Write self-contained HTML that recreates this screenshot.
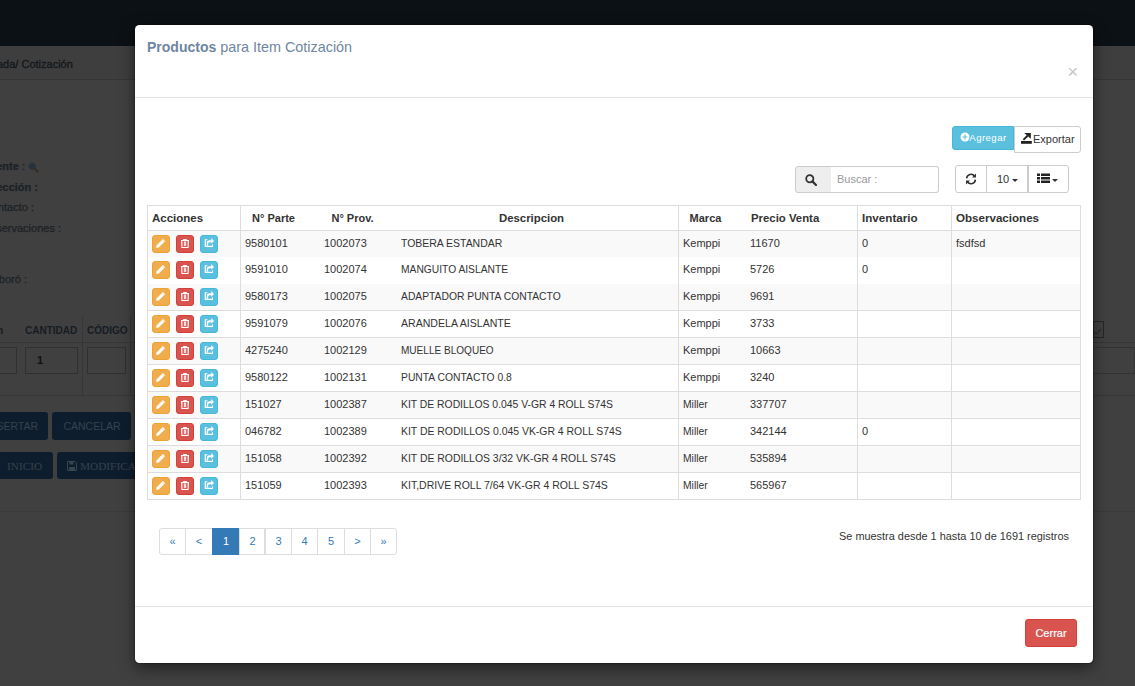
<!DOCTYPE html>
<html><head><meta charset="utf-8">
<style>
*{box-sizing:border-box;margin:0;padding:0}
html,body{width:1135px;height:686px;overflow:hidden}
body{background:#404040;font-family:"Liberation Sans",sans-serif;position:relative;color:#333}
.a{position:absolute;white-space:nowrap}
#topbar{left:0;top:0;width:1135px;height:46px;background:#0c1115}
#crumb{left:0;top:46px;width:1135px;height:34px;background:#3e3e3e;border-bottom:1px solid #363636}
.bg{color:#161616;font-size:11px}
#modal{left:135px;top:25px;width:958px;height:638px;background:#fff;border-radius:4.5px;box-shadow:0 0 0 1px rgba(0,0,0,.2),0 5px 15px rgba(0,0,0,.5);overflow:hidden}
.t{font-size:11px;color:#333;line-height:13px}
.th{font-size:11px;font-weight:bold;color:#333;line-height:13px}
.hl{position:absolute;height:1px;background:#ddd}
.vl{position:absolute;width:1px;background:#ddd}
.btn18{position:absolute;width:18px;height:18px;border-radius:3px;border:1px solid}
.btn18 svg{position:absolute;left:-1px;top:-1px}
.bw{background:#f0ad4e;border-color:#eea236}
.bd{background:#d9534f;border-color:#d43f3a}
.bi{background:#5bc0de;border-color:#46b8da}
</style></head>
<body>
<div id="topbar" class="a"></div>
<div id="crumb" class="a"></div>
<div class="a" style="left:0;top:511px;width:1135px;height:1px;background:#3a3a3a"></div>
<div class="a" style="left:-3px;top:58px;font-size:11px;color:#13171b;line-height:13px;-webkit-text-stroke:0.3px #13171b">ada/ Cotización</div>
<div class="a" style="right:1110px;top:159.7px;font-size:11px;color:#1c2126;line-height:13px;text-align:right;-webkit-text-stroke:0.25px #1c2126;font-weight:bold">ente <span style="font-weight:normal">:</span></div>
<svg class="a" style="left:28px;top:162px" width="11" height="11" viewBox="0 0 11 11"><circle cx="4.3" cy="4.3" r="3.5" fill="#27313b" stroke="#323a42" stroke-width="1"/><path d="M6.8 6.8L10.3 10.3" stroke="#3a2a1a" stroke-width="2"/></svg>
<div class="a" style="right:1097px;top:180.7px;font-size:11px;color:#1c2126;line-height:13px;text-align:right;-webkit-text-stroke:0.25px #1c2126;font-weight:bold">ección :</div>
<div class="a" style="right:1101px;top:201.1px;font-size:11px;color:#1c2126;line-height:13px;text-align:right;-webkit-text-stroke:0.25px #1c2126;">ntacto :</div>
<div class="a" style="right:1074px;top:222.1px;font-size:11px;color:#1c2126;line-height:13px;text-align:right;-webkit-text-stroke:0.25px #1c2126;">servaciones :</div>
<div class="a" style="right:1108px;top:272.7px;font-size:11px;color:#1c2126;line-height:13px;text-align:right;-webkit-text-stroke:0.25px #1c2126;">boró :</div>
<div class="a" style="left:0;top:342px;width:135px;height:1px;background:#363636"></div>
<div class="a" style="left:0;top:395px;width:135px;height:1px;background:#363636"></div>
<div class="a" style="left:82px;top:317px;width:1px;height:78px;background:#363636"></div>
<div class="a" style="left:130px;top:317px;width:1px;height:78px;background:#363636"></div>
<div class="a" style="left:-3px;top:324.5px;font-size:10px;color:#161c23;font-weight:bold;line-height:12px">n</div>
<div class="a" style="left:25px;top:324.5px;font-size:10px;color:#161c23;font-weight:bold;line-height:12px">CANTIDAD</div>
<div class="a" style="left:87px;top:324.5px;font-size:10px;color:#161c23;font-weight:bold;line-height:12px">CÓDIGO</div>
<div class="a" style="left:-10px;top:347px;width:27px;height:27px;border:1px solid #303030"></div>
<div class="a" style="left:25px;top:347px;width:53px;height:27px;border:1px solid #303030"></div>
<div class="a" style="left:87px;top:347px;width:39px;height:27px;border:1px solid #303030"></div>
<div class="a" style="left:37px;top:354px;font-size:11px;color:#111;font-weight:bold;line-height:13px">1</div>
<div class="a" style="left:1093px;top:321px;width:11px;height:17px;border:1px solid #262626"></div>
<svg class="a" style="left:1093px;top:326px" width="10" height="10" viewBox="0 0 10 10"><path d="M1 6L3.5 8L8 3" fill="none" stroke="#222" stroke-width="1"/></svg>
<div class="a" style="left:1093px;top:342px;width:42px;height:1px;background:#363636"></div>
<div class="a" style="left:1093px;top:395px;width:42px;height:1px;background:#363636"></div>
<div class="a" style="left:1080px;top:347px;width:55px;height:27px;border:1px solid #333"></div>
<div class="a" style="left:-10px;top:412px;width:58px;height:28px;background:#0e1d2d;border-radius:3px;font-size:10.5px;color:#36424c;line-height:28px;text-align:right;padding-right:10px">SERTAR</div>
<div class="a" style="left:52px;top:412px;width:79px;height:28px;background:#0e1d2d;border-radius:3px;font-size:10.5px;color:#36424c;line-height:28px;text-align:center;padding-left:1px">CANCELAR</div>
<div class="a" style="left:-10px;top:452px;width:63px;height:27px;background:#0e1d2d;border-radius:3px;font-family:'Liberation Serif',serif;font-size:11.3px;color:#36424c;line-height:29px;padding-left:17px">INICIO</div>
<div class="a" style="left:57px;top:452px;width:100px;height:27px;background:#0e1d2d;border-radius:3px;font-family:'Liberation Serif',serif;font-size:11.3px;color:#36424c;line-height:29px;padding-left:23px">MODIFICAR</div>
<svg class="a" style="left:67px;top:461px" width="10" height="10" viewBox="0 0 10 10"><path d="M0.5 0.5H8L9.5 2V9.5H0.5Z" fill="none" stroke="#38444e" stroke-width="1"/><rect x="2.5" y="0.5" width="4" height="3" fill="#38444e"/><rect x="2" y="6" width="6" height="3.5" fill="#38444e"/></svg>
<div id="modal" class="a">

<div class="a" style="left:12px;top:14px;font-size:14px;color:#6f86a0;line-height:17px"><b>Productos</b> <span style="font-size:14.4px">para Item Cotización</span></div>
<div class="a" style="left:932.5px;top:37px;font-size:18px;color:#c4c4c4;line-height:20px">×</div>
<div class="hl" style="left:0;top:72px;width:958px;background:#e5e5e5"></div>
<div class="a" style="left:12px;top:180px;width:934px;height:295px;border:1px solid #ddd"></div>
<div class="a" style="left:13px;top:206px;width:932px;height:26px;background:#f9f9f9"></div>
<div class="a" style="left:13px;top:259px;width:932px;height:26px;background:#f9f9f9"></div>
<div class="a" style="left:13px;top:313px;width:932px;height:26px;background:#f9f9f9"></div>
<div class="a" style="left:13px;top:367px;width:932px;height:26px;background:#f9f9f9"></div>
<div class="a" style="left:13px;top:421px;width:932px;height:26px;background:#f9f9f9"></div>
<div class="hl" style="left:12px;top:205px;width:934px"></div>
<div class="hl" style="left:12px;top:285px;width:934px"></div>
<div class="hl" style="left:12px;top:312px;width:934px"></div>
<div class="hl" style="left:12px;top:339px;width:934px"></div>
<div class="hl" style="left:12px;top:366px;width:934px"></div>
<div class="hl" style="left:12px;top:393px;width:934px"></div>
<div class="hl" style="left:12px;top:420px;width:934px"></div>
<div class="hl" style="left:12px;top:447px;width:934px"></div>
<div class="vl" style="left:105px;top:180px;height:295px"></div>
<div class="vl" style="left:543px;top:180px;height:295px"></div>
<div class="vl" style="left:722px;top:180px;height:295px"></div>
<div class="vl" style="left:816px;top:180px;height:295px"></div>
<div class="a th" style="left:17px;top:187px;transform:scaleX(1.046);transform-origin:0 0">Acciones</div>
<div class="a th" style="left:105px;width:67px;top:187px;text-align:center">N° Parte</div>
<div class="a th" style="left:185px;width:65px;top:187px;text-align:center">N° Prov.</div>
<div class="a th" style="left:262px;width:269px;top:187px;text-align:center;transform:scaleX(1.034);transform-origin:50% 0">Descripcion</div>
<div class="a th" style="left:543px;width:55px;top:187px;text-align:center">Marca</div>
<div class="a th" style="left:615.6px;top:187px;transform:scaleX(1.033);transform-origin:0 0">Precio Venta</div>
<div class="a th" style="left:727px;top:187px;transform:scaleX(1.058);transform-origin:0 0">Inventario</div>
<div class="a th" style="left:821px;top:187px;transform:scaleX(1.053);transform-origin:0 0">Observaciones</div>
<div class="a t" style="left:110px;top:212px">9580101</div>
<div class="a t" style="left:189px;top:212px">1002073</div>
<div class="a t" style="left:266px;top:212px;transform:scaleX(0.95);transform-origin:0 0">TOBERA ESTANDAR</div>
<div class="a t" style="left:548px;top:212px">Kemppi</div>
<div class="a t" style="left:615px;top:212px">11670</div>
<div class="a t" style="left:727px;top:212px">0</div>
<div class="a t" style="left:821px;top:212px">fsdfsd</div>
<div class="btn18 bw" style="left:17px;top:210px"><svg width="18" height="18" viewBox="0 0 18 18"><path d="M4.2 13 L4.5 10.4 L10.9 4 L13.1 6.2 L6.7 12.6 Z" fill="#fff"/><path d="M9.9 5.4L11.7 7.2" stroke="#f0ad4e" stroke-width="0.5"/></svg></div>
<div class="btn18 bd" style="left:41px;top:210px"><svg width="18" height="18" viewBox="0 0 18 18"><path d="M5 4.9 H7.1 L7.4 3.9 H10.6 L10.9 4.9 H13 L12.6 13 H5.4 Z" fill="#fff"/><path d="M6.3 6.1 H11.7 V11.9 H6.3Z" fill="#d9534f"/><path d="M8.2 6.5 H9.8 V11.1 H8.2Z" fill="#fff"/><path d="M6.9 6.5 V11.3 M11.1 6.5 V11.3" stroke="#f0b8b6" stroke-width="0.6"/></svg></div>
<div class="btn18 bi" style="left:65px;top:210px"><svg width="18" height="18" viewBox="0 0 18 18"><g fill="#fff"><path d="M4.7 4.2 H7.4 V5.3 H5.9 V10.8 H12 V9.2 H12.9 V12 H4.7 Z"/><path d="M6.7 10.8 V8 Q6.7 5.2 9.6 5.2 H11.3 V3.1 L14 6 L11.3 8.8 V7.3 H9.7 Q8.1 7.3 8.1 9.1 V10.8 Z"/></g></svg></div>
<div class="a t" style="left:110px;top:238px">9591010</div>
<div class="a t" style="left:189px;top:238px">1002074</div>
<div class="a t" style="left:266px;top:238px;transform:scaleX(0.933);transform-origin:0 0">MANGUITO AISLANTE</div>
<div class="a t" style="left:548px;top:238px">Kemppi</div>
<div class="a t" style="left:615px;top:238px">5726</div>
<div class="a t" style="left:727px;top:238px">0</div>
<div class="btn18 bw" style="left:17px;top:236px"><svg width="18" height="18" viewBox="0 0 18 18"><path d="M4.2 13 L4.5 10.4 L10.9 4 L13.1 6.2 L6.7 12.6 Z" fill="#fff"/><path d="M9.9 5.4L11.7 7.2" stroke="#f0ad4e" stroke-width="0.5"/></svg></div>
<div class="btn18 bd" style="left:41px;top:236px"><svg width="18" height="18" viewBox="0 0 18 18"><path d="M5 4.9 H7.1 L7.4 3.9 H10.6 L10.9 4.9 H13 L12.6 13 H5.4 Z" fill="#fff"/><path d="M6.3 6.1 H11.7 V11.9 H6.3Z" fill="#d9534f"/><path d="M8.2 6.5 H9.8 V11.1 H8.2Z" fill="#fff"/><path d="M6.9 6.5 V11.3 M11.1 6.5 V11.3" stroke="#f0b8b6" stroke-width="0.6"/></svg></div>
<div class="btn18 bi" style="left:65px;top:236px"><svg width="18" height="18" viewBox="0 0 18 18"><g fill="#fff"><path d="M4.7 4.2 H7.4 V5.3 H5.9 V10.8 H12 V9.2 H12.9 V12 H4.7 Z"/><path d="M6.7 10.8 V8 Q6.7 5.2 9.6 5.2 H11.3 V3.1 L14 6 L11.3 8.8 V7.3 H9.7 Q8.1 7.3 8.1 9.1 V10.8 Z"/></g></svg></div>
<div class="a t" style="left:110px;top:265px">9580173</div>
<div class="a t" style="left:189px;top:265px">1002075</div>
<div class="a t" style="left:266px;top:265px;transform:scaleX(0.9376);transform-origin:0 0">ADAPTADOR PUNTA CONTACTO</div>
<div class="a t" style="left:548px;top:265px">Kemppi</div>
<div class="a t" style="left:615px;top:265px">9691</div>
<div class="btn18 bw" style="left:17px;top:263px"><svg width="18" height="18" viewBox="0 0 18 18"><path d="M4.2 13 L4.5 10.4 L10.9 4 L13.1 6.2 L6.7 12.6 Z" fill="#fff"/><path d="M9.9 5.4L11.7 7.2" stroke="#f0ad4e" stroke-width="0.5"/></svg></div>
<div class="btn18 bd" style="left:41px;top:263px"><svg width="18" height="18" viewBox="0 0 18 18"><path d="M5 4.9 H7.1 L7.4 3.9 H10.6 L10.9 4.9 H13 L12.6 13 H5.4 Z" fill="#fff"/><path d="M6.3 6.1 H11.7 V11.9 H6.3Z" fill="#d9534f"/><path d="M8.2 6.5 H9.8 V11.1 H8.2Z" fill="#fff"/><path d="M6.9 6.5 V11.3 M11.1 6.5 V11.3" stroke="#f0b8b6" stroke-width="0.6"/></svg></div>
<div class="btn18 bi" style="left:65px;top:263px"><svg width="18" height="18" viewBox="0 0 18 18"><g fill="#fff"><path d="M4.7 4.2 H7.4 V5.3 H5.9 V10.8 H12 V9.2 H12.9 V12 H4.7 Z"/><path d="M6.7 10.8 V8 Q6.7 5.2 9.6 5.2 H11.3 V3.1 L14 6 L11.3 8.8 V7.3 H9.7 Q8.1 7.3 8.1 9.1 V10.8 Z"/></g></svg></div>
<div class="a t" style="left:110px;top:292px">9591079</div>
<div class="a t" style="left:189px;top:292px">1002076</div>
<div class="a t" style="left:266px;top:292px;transform:scaleX(0.9606);transform-origin:0 0">ARANDELA AISLANTE</div>
<div class="a t" style="left:548px;top:292px">Kemppi</div>
<div class="a t" style="left:615px;top:292px">3733</div>
<div class="btn18 bw" style="left:17px;top:290px"><svg width="18" height="18" viewBox="0 0 18 18"><path d="M4.2 13 L4.5 10.4 L10.9 4 L13.1 6.2 L6.7 12.6 Z" fill="#fff"/><path d="M9.9 5.4L11.7 7.2" stroke="#f0ad4e" stroke-width="0.5"/></svg></div>
<div class="btn18 bd" style="left:41px;top:290px"><svg width="18" height="18" viewBox="0 0 18 18"><path d="M5 4.9 H7.1 L7.4 3.9 H10.6 L10.9 4.9 H13 L12.6 13 H5.4 Z" fill="#fff"/><path d="M6.3 6.1 H11.7 V11.9 H6.3Z" fill="#d9534f"/><path d="M8.2 6.5 H9.8 V11.1 H8.2Z" fill="#fff"/><path d="M6.9 6.5 V11.3 M11.1 6.5 V11.3" stroke="#f0b8b6" stroke-width="0.6"/></svg></div>
<div class="btn18 bi" style="left:65px;top:290px"><svg width="18" height="18" viewBox="0 0 18 18"><g fill="#fff"><path d="M4.7 4.2 H7.4 V5.3 H5.9 V10.8 H12 V9.2 H12.9 V12 H4.7 Z"/><path d="M6.7 10.8 V8 Q6.7 5.2 9.6 5.2 H11.3 V3.1 L14 6 L11.3 8.8 V7.3 H9.7 Q8.1 7.3 8.1 9.1 V10.8 Z"/></g></svg></div>
<div class="a t" style="left:110px;top:319px">4275240</div>
<div class="a t" style="left:189px;top:319px">1002129</div>
<div class="a t" style="left:266px;top:319px;transform:scaleX(0.913);transform-origin:0 0">MUELLE BLOQUEO</div>
<div class="a t" style="left:548px;top:319px">Kemppi</div>
<div class="a t" style="left:615px;top:319px">10663</div>
<div class="btn18 bw" style="left:17px;top:317px"><svg width="18" height="18" viewBox="0 0 18 18"><path d="M4.2 13 L4.5 10.4 L10.9 4 L13.1 6.2 L6.7 12.6 Z" fill="#fff"/><path d="M9.9 5.4L11.7 7.2" stroke="#f0ad4e" stroke-width="0.5"/></svg></div>
<div class="btn18 bd" style="left:41px;top:317px"><svg width="18" height="18" viewBox="0 0 18 18"><path d="M5 4.9 H7.1 L7.4 3.9 H10.6 L10.9 4.9 H13 L12.6 13 H5.4 Z" fill="#fff"/><path d="M6.3 6.1 H11.7 V11.9 H6.3Z" fill="#d9534f"/><path d="M8.2 6.5 H9.8 V11.1 H8.2Z" fill="#fff"/><path d="M6.9 6.5 V11.3 M11.1 6.5 V11.3" stroke="#f0b8b6" stroke-width="0.6"/></svg></div>
<div class="btn18 bi" style="left:65px;top:317px"><svg width="18" height="18" viewBox="0 0 18 18"><g fill="#fff"><path d="M4.7 4.2 H7.4 V5.3 H5.9 V10.8 H12 V9.2 H12.9 V12 H4.7 Z"/><path d="M6.7 10.8 V8 Q6.7 5.2 9.6 5.2 H11.3 V3.1 L14 6 L11.3 8.8 V7.3 H9.7 Q8.1 7.3 8.1 9.1 V10.8 Z"/></g></svg></div>
<div class="a t" style="left:110px;top:346px">9580122</div>
<div class="a t" style="left:189px;top:346px">1002131</div>
<div class="a t" style="left:266px;top:346px;transform:scaleX(0.9397);transform-origin:0 0">PUNTA CONTACTO 0.8</div>
<div class="a t" style="left:548px;top:346px">Kemppi</div>
<div class="a t" style="left:615px;top:346px">3240</div>
<div class="btn18 bw" style="left:17px;top:344px"><svg width="18" height="18" viewBox="0 0 18 18"><path d="M4.2 13 L4.5 10.4 L10.9 4 L13.1 6.2 L6.7 12.6 Z" fill="#fff"/><path d="M9.9 5.4L11.7 7.2" stroke="#f0ad4e" stroke-width="0.5"/></svg></div>
<div class="btn18 bd" style="left:41px;top:344px"><svg width="18" height="18" viewBox="0 0 18 18"><path d="M5 4.9 H7.1 L7.4 3.9 H10.6 L10.9 4.9 H13 L12.6 13 H5.4 Z" fill="#fff"/><path d="M6.3 6.1 H11.7 V11.9 H6.3Z" fill="#d9534f"/><path d="M8.2 6.5 H9.8 V11.1 H8.2Z" fill="#fff"/><path d="M6.9 6.5 V11.3 M11.1 6.5 V11.3" stroke="#f0b8b6" stroke-width="0.6"/></svg></div>
<div class="btn18 bi" style="left:65px;top:344px"><svg width="18" height="18" viewBox="0 0 18 18"><g fill="#fff"><path d="M4.7 4.2 H7.4 V5.3 H5.9 V10.8 H12 V9.2 H12.9 V12 H4.7 Z"/><path d="M6.7 10.8 V8 Q6.7 5.2 9.6 5.2 H11.3 V3.1 L14 6 L11.3 8.8 V7.3 H9.7 Q8.1 7.3 8.1 9.1 V10.8 Z"/></g></svg></div>
<div class="a t" style="left:110px;top:373px">151027</div>
<div class="a t" style="left:189px;top:373px">1002387</div>
<div class="a t" style="left:266px;top:373px;transform:scaleX(0.942);transform-origin:0 0">KIT DE RODILLOS 0.045 V-GR 4 ROLL S74S</div>
<div class="a t" style="left:548px;top:373px;transform:scaleX(0.94);transform-origin:0 0">Miller</div>
<div class="a t" style="left:615px;top:373px">337707</div>
<div class="btn18 bw" style="left:17px;top:371px"><svg width="18" height="18" viewBox="0 0 18 18"><path d="M4.2 13 L4.5 10.4 L10.9 4 L13.1 6.2 L6.7 12.6 Z" fill="#fff"/><path d="M9.9 5.4L11.7 7.2" stroke="#f0ad4e" stroke-width="0.5"/></svg></div>
<div class="btn18 bd" style="left:41px;top:371px"><svg width="18" height="18" viewBox="0 0 18 18"><path d="M5 4.9 H7.1 L7.4 3.9 H10.6 L10.9 4.9 H13 L12.6 13 H5.4 Z" fill="#fff"/><path d="M6.3 6.1 H11.7 V11.9 H6.3Z" fill="#d9534f"/><path d="M8.2 6.5 H9.8 V11.1 H8.2Z" fill="#fff"/><path d="M6.9 6.5 V11.3 M11.1 6.5 V11.3" stroke="#f0b8b6" stroke-width="0.6"/></svg></div>
<div class="btn18 bi" style="left:65px;top:371px"><svg width="18" height="18" viewBox="0 0 18 18"><g fill="#fff"><path d="M4.7 4.2 H7.4 V5.3 H5.9 V10.8 H12 V9.2 H12.9 V12 H4.7 Z"/><path d="M6.7 10.8 V8 Q6.7 5.2 9.6 5.2 H11.3 V3.1 L14 6 L11.3 8.8 V7.3 H9.7 Q8.1 7.3 8.1 9.1 V10.8 Z"/></g></svg></div>
<div class="a t" style="left:110px;top:400px">046782</div>
<div class="a t" style="left:189px;top:400px">1002389</div>
<div class="a t" style="left:266px;top:400px;transform:scaleX(0.948);transform-origin:0 0">KIT DE RODILLOS 0.045 VK-GR 4 ROLL S74S</div>
<div class="a t" style="left:548px;top:400px;transform:scaleX(0.94);transform-origin:0 0">Miller</div>
<div class="a t" style="left:615px;top:400px">342144</div>
<div class="a t" style="left:727px;top:400px">0</div>
<div class="btn18 bw" style="left:17px;top:398px"><svg width="18" height="18" viewBox="0 0 18 18"><path d="M4.2 13 L4.5 10.4 L10.9 4 L13.1 6.2 L6.7 12.6 Z" fill="#fff"/><path d="M9.9 5.4L11.7 7.2" stroke="#f0ad4e" stroke-width="0.5"/></svg></div>
<div class="btn18 bd" style="left:41px;top:398px"><svg width="18" height="18" viewBox="0 0 18 18"><path d="M5 4.9 H7.1 L7.4 3.9 H10.6 L10.9 4.9 H13 L12.6 13 H5.4 Z" fill="#fff"/><path d="M6.3 6.1 H11.7 V11.9 H6.3Z" fill="#d9534f"/><path d="M8.2 6.5 H9.8 V11.1 H8.2Z" fill="#fff"/><path d="M6.9 6.5 V11.3 M11.1 6.5 V11.3" stroke="#f0b8b6" stroke-width="0.6"/></svg></div>
<div class="btn18 bi" style="left:65px;top:398px"><svg width="18" height="18" viewBox="0 0 18 18"><g fill="#fff"><path d="M4.7 4.2 H7.4 V5.3 H5.9 V10.8 H12 V9.2 H12.9 V12 H4.7 Z"/><path d="M6.7 10.8 V8 Q6.7 5.2 9.6 5.2 H11.3 V3.1 L14 6 L11.3 8.8 V7.3 H9.7 Q8.1 7.3 8.1 9.1 V10.8 Z"/></g></svg></div>
<div class="a t" style="left:110px;top:427px">151058</div>
<div class="a t" style="left:189px;top:427px">1002392</div>
<div class="a t" style="left:266px;top:427px;transform:scaleX(0.947);transform-origin:0 0">KIT DE RODILLOS 3/32 VK-GR 4 ROLL S74S</div>
<div class="a t" style="left:548px;top:427px;transform:scaleX(0.94);transform-origin:0 0">Miller</div>
<div class="a t" style="left:615px;top:427px">535894</div>
<div class="btn18 bw" style="left:17px;top:425px"><svg width="18" height="18" viewBox="0 0 18 18"><path d="M4.2 13 L4.5 10.4 L10.9 4 L13.1 6.2 L6.7 12.6 Z" fill="#fff"/><path d="M9.9 5.4L11.7 7.2" stroke="#f0ad4e" stroke-width="0.5"/></svg></div>
<div class="btn18 bd" style="left:41px;top:425px"><svg width="18" height="18" viewBox="0 0 18 18"><path d="M5 4.9 H7.1 L7.4 3.9 H10.6 L10.9 4.9 H13 L12.6 13 H5.4 Z" fill="#fff"/><path d="M6.3 6.1 H11.7 V11.9 H6.3Z" fill="#d9534f"/><path d="M8.2 6.5 H9.8 V11.1 H8.2Z" fill="#fff"/><path d="M6.9 6.5 V11.3 M11.1 6.5 V11.3" stroke="#f0b8b6" stroke-width="0.6"/></svg></div>
<div class="btn18 bi" style="left:65px;top:425px"><svg width="18" height="18" viewBox="0 0 18 18"><g fill="#fff"><path d="M4.7 4.2 H7.4 V5.3 H5.9 V10.8 H12 V9.2 H12.9 V12 H4.7 Z"/><path d="M6.7 10.8 V8 Q6.7 5.2 9.6 5.2 H11.3 V3.1 L14 6 L11.3 8.8 V7.3 H9.7 Q8.1 7.3 8.1 9.1 V10.8 Z"/></g></svg></div>
<div class="a t" style="left:110px;top:454px">151059</div>
<div class="a t" style="left:189px;top:454px">1002393</div>
<div class="a t" style="left:266px;top:454px;transform:scaleX(0.954);transform-origin:0 0">KIT,DRIVE ROLL 7/64 VK-GR 4 ROLL S74S</div>
<div class="a t" style="left:548px;top:454px;transform:scaleX(0.94);transform-origin:0 0">Miller</div>
<div class="a t" style="left:615px;top:454px">565967</div>
<div class="btn18 bw" style="left:17px;top:452px"><svg width="18" height="18" viewBox="0 0 18 18"><path d="M4.2 13 L4.5 10.4 L10.9 4 L13.1 6.2 L6.7 12.6 Z" fill="#fff"/><path d="M9.9 5.4L11.7 7.2" stroke="#f0ad4e" stroke-width="0.5"/></svg></div>
<div class="btn18 bd" style="left:41px;top:452px"><svg width="18" height="18" viewBox="0 0 18 18"><path d="M5 4.9 H7.1 L7.4 3.9 H10.6 L10.9 4.9 H13 L12.6 13 H5.4 Z" fill="#fff"/><path d="M6.3 6.1 H11.7 V11.9 H6.3Z" fill="#d9534f"/><path d="M8.2 6.5 H9.8 V11.1 H8.2Z" fill="#fff"/><path d="M6.9 6.5 V11.3 M11.1 6.5 V11.3" stroke="#f0b8b6" stroke-width="0.6"/></svg></div>
<div class="btn18 bi" style="left:65px;top:452px"><svg width="18" height="18" viewBox="0 0 18 18"><g fill="#fff"><path d="M4.7 4.2 H7.4 V5.3 H5.9 V10.8 H12 V9.2 H12.9 V12 H4.7 Z"/><path d="M6.7 10.8 V8 Q6.7 5.2 9.6 5.2 H11.3 V3.1 L14 6 L11.3 8.8 V7.3 H9.7 Q8.1 7.3 8.1 9.1 V10.8 Z"/></g></svg></div>
<div class="a" style="left:817px;top:101px;width:62px;height:24px;background:#5bc0de;border:1px solid #46b8da;border-radius:3px 0 0 3px"></div>
<div class="a" style="left:879px;top:101px;width:67px;height:27px;background:#fff;border:1px solid #ccc;border-radius:0 3px 3px 0"></div>
<svg class="a" style="left:824.7px;top:107.4px" width="10" height="10" viewBox="0 0 10 10"><circle cx="5" cy="5" r="4.5" fill="#fff"/><path d="M5 2.6V7.4M2.6 5H7.4" stroke="#5bc0de" stroke-width="1.1"/></svg>
<div class="a" style="left:834.3px;top:106.6px;font-size:9.6px;letter-spacing:0.45px;color:#fff;line-height:12px">Agregar</div>
<svg class="a" style="left:883px;top:105px" width="18" height="18" viewBox="0 0 18 18"><rect x="3" y="11" width="10.8" height="2.8" fill="#222"/><path d="M6.2 2.9H12.8V8.8Z" fill="#222"/><path d="M5.4 9.9L9.6 5.8" stroke="#222" stroke-width="1.9"/></svg>
<div class="a" style="left:898px;top:108px;font-size:11px;color:#333;line-height:13px">Exportar</div>
<div class="a" style="left:660px;top:141px;width:37px;height:27px;background:#eee;border:1px solid #ccc;border-radius:3px 0 0 3px"></div>
<div class="a" style="left:696px;top:141px;width:108px;height:27px;background:#fff;border:1px solid #ccc;border-left:0;border-radius:0 3px 3px 0"></div>
<svg class="a" style="left:670px;top:149px" width="12" height="12" viewBox="0 0 12 12"><circle cx="4.8" cy="4.8" r="3.6" fill="none" stroke="#333" stroke-width="1.8"/><path d="M7.4 7.4L11 11" stroke="#333" stroke-width="2.2" stroke-linecap="round"/></svg>
<div class="a" style="left:702px;top:148px;font-size:11px;color:#999;line-height:13px">Buscar :</div>
<div class="a" style="left:820px;top:140px;width:114px;height:28px;background:#fff;border:1px solid #ccc;border-radius:3px"></div>
<div class="vl" style="left:851px;top:140px;height:28px;background:#ccc"></div>
<div class="vl" style="left:892px;top:140px;height:28px;background:#ccc"></div>
<div class="vl" style="left:893px;top:140px;height:28px;background:#ccc"></div>
<svg class="a" style="left:830px;top:147.5px" width="12" height="12" viewBox="0 0 12 12"><g fill="none" stroke="#333" stroke-width="1.6"><path d="M1.6 5.4A4.4 4.4 0 0 1 9.6 3.2"/><path d="M10.4 6.6A4.4 4.4 0 0 1 2.4 8.8"/></g><path d="M11 0.6V4.6H7Z" fill="#333"/><path d="M1 11.4V7.4H5Z" fill="#333"/></svg>
<div class="a" style="left:862px;top:148px;font-size:11px;color:#333;line-height:13px">10</div>
<svg class="a" style="left:877px;top:154px" width="6" height="3" viewBox="0 0 6 3"><path d="M0 0H6L3 3Z" fill="#333"/></svg>
<svg class="a" style="left:902px;top:148px" width="13" height="11" viewBox="0 0 13 11"><g fill="#222"><rect x="0" y="0.5" width="3" height="2.5"/><rect x="4" y="0.5" width="9" height="2.5"/><rect x="0" y="4" width="3" height="2.5"/><rect x="4" y="4" width="9" height="2.5"/><rect x="0" y="7.5" width="3" height="2.5"/><rect x="4" y="7.5" width="9" height="2.5"/></g></svg>
<svg class="a" style="left:917.3px;top:154px" width="6" height="3" viewBox="0 0 6 3"><path d="M0 0H6L3 3Z" fill="#333"/></svg>
<div class="a" style="left:24px;top:503px;width:27px;height:27px;background:#fff;border:1px solid #ddd;border-radius:3px 0 0 3px;;font-size:11px;color:#337ab7;line-height:25px;text-align:center">«</div>
<div class="a" style="left:50px;top:503px;width:28px;height:27px;background:#fff;border:1px solid #ddd;;font-size:11px;color:#337ab7;line-height:25px;text-align:center">&lt;</div>
<div class="a" style="left:77px;top:503px;width:28px;height:27px;background:#337ab7;border:1px solid #337ab7;;font-size:11px;color:#fff;line-height:25px;text-align:center">1</div>
<div class="a" style="left:104px;top:503px;width:27px;height:27px;background:#fff;border:1px solid #ddd;;font-size:11px;color:#337ab7;line-height:25px;text-align:center">2</div>
<div class="a" style="left:130px;top:503px;width:27px;height:27px;background:#fff;border:1px solid #ddd;;font-size:11px;color:#337ab7;line-height:25px;text-align:center">3</div>
<div class="a" style="left:156px;top:503px;width:27px;height:27px;background:#fff;border:1px solid #ddd;;font-size:11px;color:#337ab7;line-height:25px;text-align:center">4</div>
<div class="a" style="left:182px;top:503px;width:28px;height:27px;background:#fff;border:1px solid #ddd;;font-size:11px;color:#337ab7;line-height:25px;text-align:center">5</div>
<div class="a" style="left:209px;top:503px;width:27px;height:27px;background:#fff;border:1px solid #ddd;;font-size:11px;color:#337ab7;line-height:25px;text-align:center">&gt;</div>
<div class="a" style="left:235px;top:503px;width:27px;height:27px;background:#fff;border:1px solid #ddd;border-radius:0 3px 3px 0;;font-size:11px;color:#337ab7;line-height:25px;text-align:center">»</div>
<div class="vl" style="left:129px;top:503px;height:27px"></div>
<div class="a t" style="left:704px;top:505px;transform:scaleX(0.992);transform-origin:0 0">Se muestra desde 1 hasta 10 de 1691 registros</div>
<div class="hl" style="left:0;top:581px;width:958px;background:#e5e5e5"></div>
<div class="a" style="left:890px;top:594px;width:52px;height:28px;background:#d9534f;border:1px solid #d43f3a;border-radius:3px;font-size:11px;color:#fff;line-height:26px;text-align:center;-webkit-text-stroke:0.2px #fff">Cerrar</div>
</div>
</body></html>
